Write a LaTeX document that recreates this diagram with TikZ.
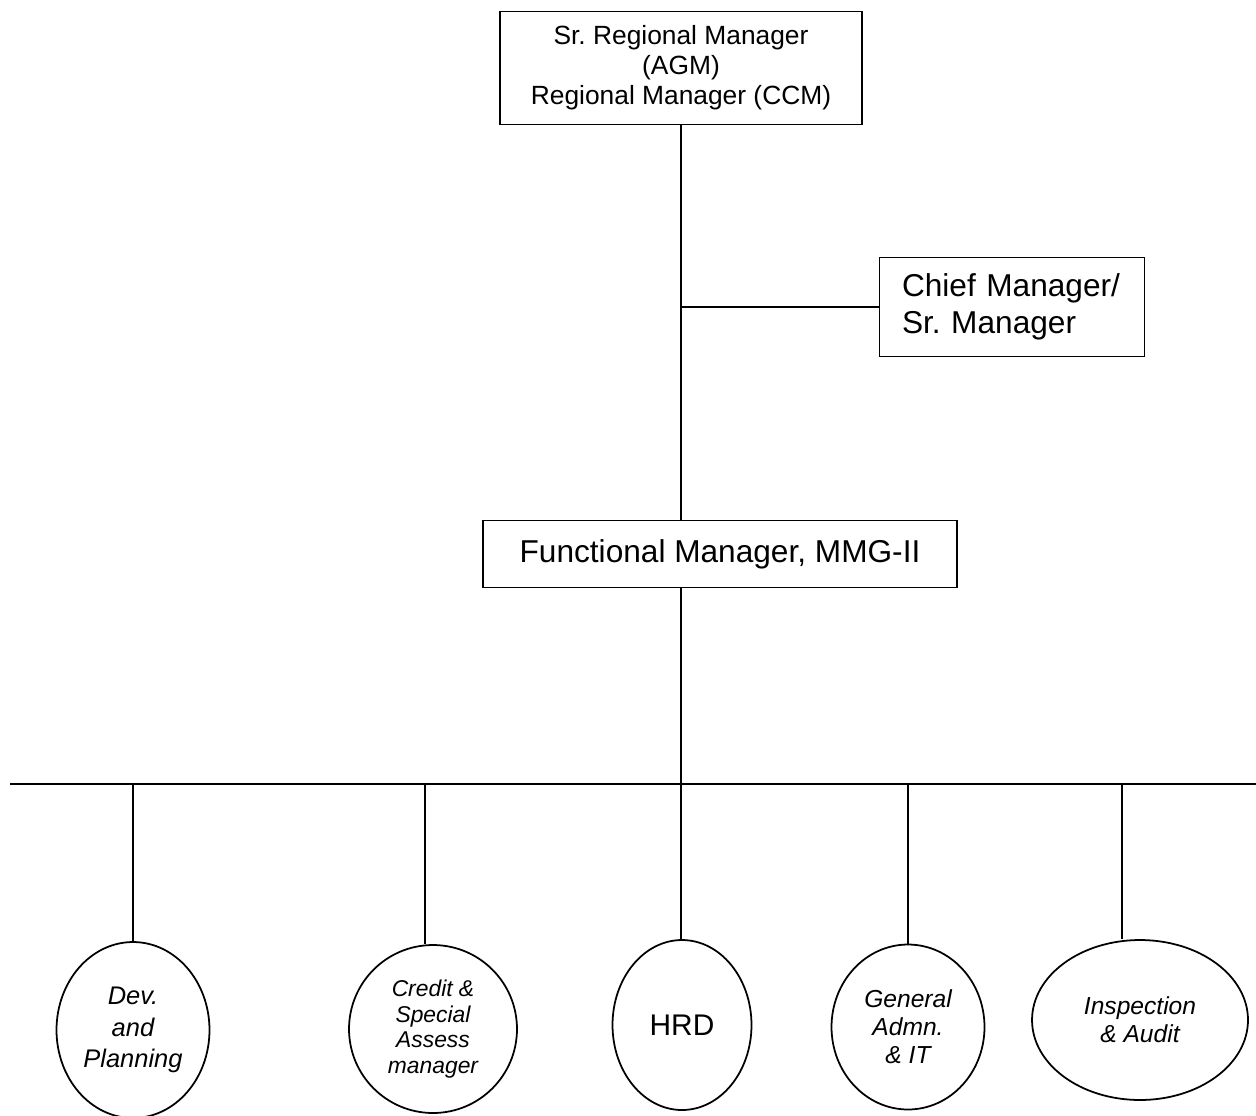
\documentclass[tikz,border=0pt]{standalone}
\usepackage{fontspec}
\setmainfont{Liberation Sans}
\usetikzlibrary{shapes.geometric,positioning}
\frenchspacing

\begin{document}
\begin{tikzpicture}[x=0.02cm,y=-0.02cm,line width=1pt]
  \tikzstyle{post}=[rectangle,draw=black,text=black,align=center,inner sep=0pt,line width=1pt]
  \tikzstyle{unit}=[ellipse,draw=black,text=black,align=center,inner sep=0pt,line width=1pt,
                    font=\itshape\fontsize{14}{17}\selectfont]
  \useasboundingbox (0,0) rectangle (1256,1115);

  \node[post,minimum width=7.24cm,minimum height=2.26cm,font=\fontsize{15}{17}\selectfont] (rm) at (681,68)
        {Sr. Regional Manager\\(AGM)\\Regional Manager (CCM)};
  \node[post,minimum width=5.3cm,minimum height=1.98cm,text width=4.4cm,align=left,
        font=\fontsize{18}{21}\selectfont] (cm) at (1012,307) {Chief Manager/\\Sr. Manager};
  \node[post,minimum width=9.48cm,minimum height=1.34cm,font=\fontsize{18}{21}\selectfont] (fm) at (720,554)
        {Functional Manager, MMG-II};

  \node[unit,minimum width=3.06cm,minimum height=3.52cm,font=\itshape\fontsize{14.5}{18}\selectfont] (dev) at (133,1030)
        {Dev.\\and\\Planning};
  \node[unit,minimum width=3.36cm,minimum height=3.36cm,font=\itshape\fontsize{13}{14.5}\selectfont] (credit) at (433,1029)
        {Credit \&\\Special\\Assess\\manager};
  \node[unit,minimum width=2.78cm,minimum height=3.4cm,font=\fontsize{17}{20}\selectfont] (hrd) at (682,1025) {HRD};
  \node[unit,minimum width=3.06cm,minimum height=3.3cm,font=\itshape\fontsize{14}{16}\selectfont] (gen) at (908,1027)
        {General\\Admn.\\\& IT};
  \node[unit,minimum width=4.32cm,minimum height=3.2cm,font=\itshape\fontsize{14}{16}\selectfont] (insp) at (1140,1020)
        {Inspection\\\& Audit};

  % bus line
  \coordinate (busL) at (10,784);
  \coordinate (busR) at (1256,784);
  \coordinate (b1) at (133,784);
  \coordinate (b2) at (425,784);
  \coordinate (b3) at (681,784);
  \coordinate (b4) at (908,784);
  \coordinate (b5) at (1122,784);

  \draw (rm.south) -- (rm.south |- fm.north);
  \draw (cm.west) -- (cm.west -| rm.south);
  \draw (rm.south |- fm.south) -- (b3);
  \draw (busL) -- (busR);
  \draw (b1) -- (b1 |- dev.north);
  \draw (b2) -- (b2 |- credit.north);
  \draw (b3) -- (b3 |- hrd.north);
  \draw (b4) -- (b4 |- gen.north);
  \draw (b5) -- (b5 |- insp.north);
\end{tikzpicture}
\end{document}
